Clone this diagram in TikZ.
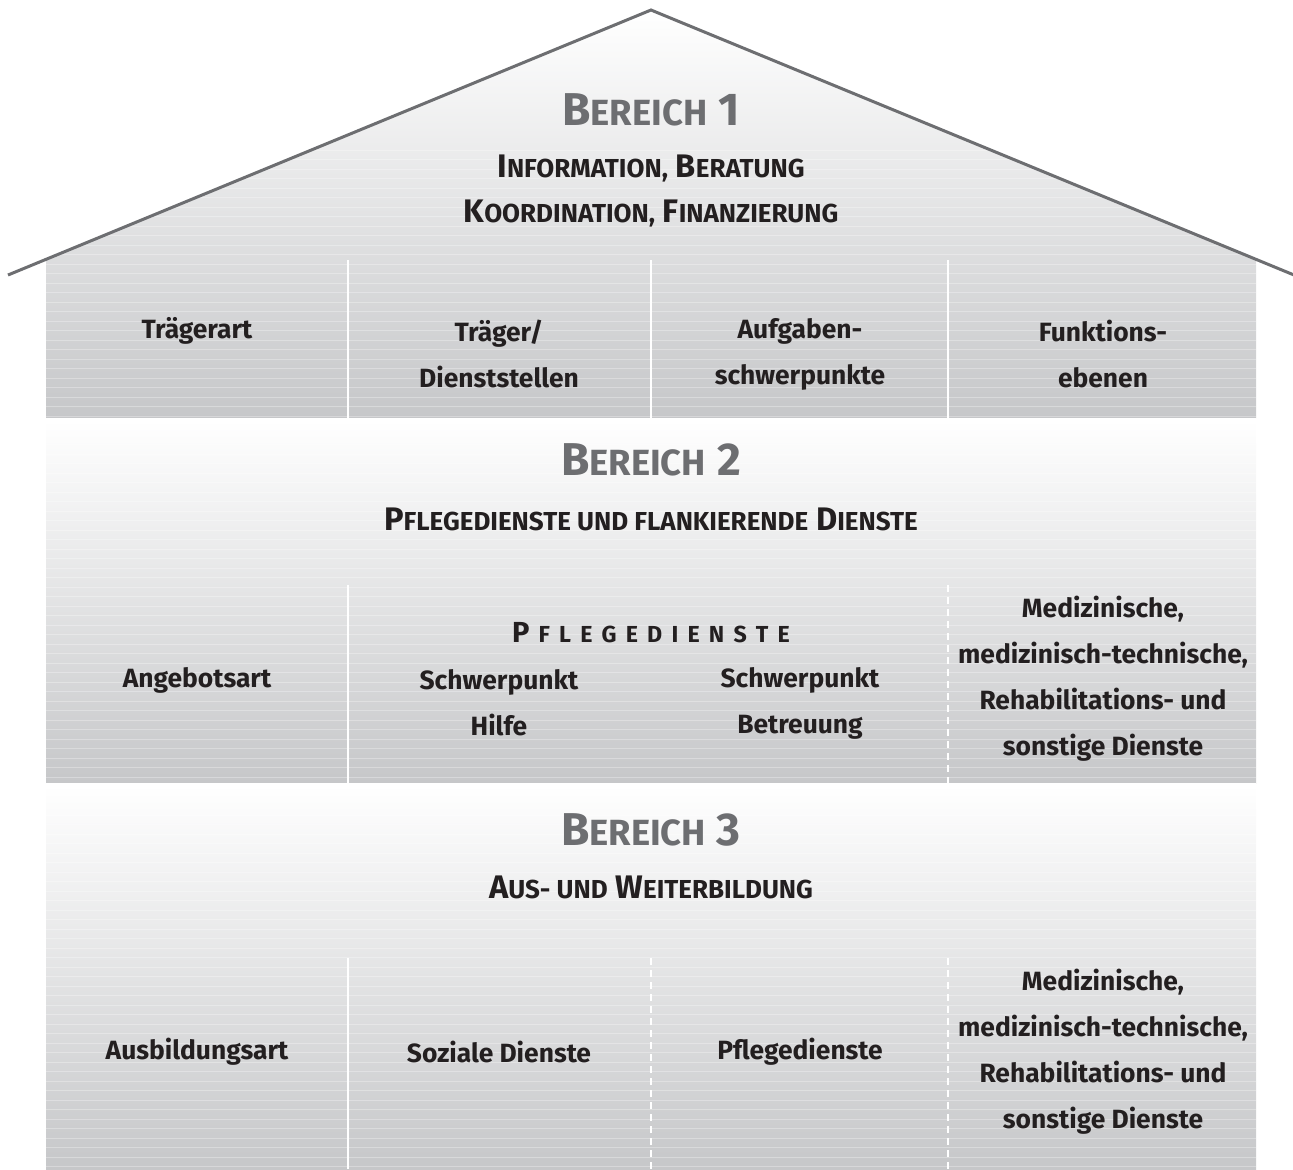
\documentclass[tikz,border=0pt]{standalone}
\usepackage{fontspec}
\setmainfont{Fira Sans}
\usetikzlibrary{positioning}
\definecolor{dach}{HTML}{6D6E71}
\definecolor{wand}{HTML}{C6C7C9}
\definecolor{schrift}{HTML}{231F20}
% Kapitaelchen von Hand
\newcommand{\kgross}[1]{{\fontsize{18.2}{20}\selectfont #1}}
\newcommand{\kunter}[1]{{\fontsize{13}{14}\selectfont #1}}
\newcommand{\kmini}[1]{{\fontsize{11.6}{14}\selectfont #1}}
\newcommand{\lsp}{\hspace{4.6pt}}

\begin{document}
\begin{tikzpicture}[x=0.5pt, y=-0.5pt,
    band/.style={top color=white, bottom color=wand},
    streifen/.style={draw=white, opacity=0.3, line width=0.5pt},
    trenner/.style={draw=white, line width=1pt},
    trennerdash/.style={trenner, dash pattern=on 3.5pt off 2.5pt},
    bereich/.style={font=\fontsize{23}{24}\selectfont\bfseries, text=dach},
    untertitel/.style={font=\fontsize{16.3}{22.5}\selectfont\bfseries, text=schrift, align=center},
    sperrtitel/.style={font=\fontsize{14.5}{16}\selectfont\bfseries, text=schrift},
    feld/.style={font=\fontsize{13.2}{23}\selectfont\bfseries, text=schrift, align=center}]
  \useasboundingbox (0,0) rectangle (1293,1169);

  % Dach und Baender
  \coordinate (traufeL) at (8,275);
  \coordinate (first) at (651,10);
  \coordinate (traufeR) at (1294,275);
  \shade[band] (46,259.3) -- (first) -- (1256,259.3) -- (1256,418) -- (46,418) -- cycle;
  \shade[band] (46,420) rectangle (1256,783);
  \shade[band] (46,785) rectangle (1256,1169);
  \begin{scope}
    \clip (46,259.3) -- (first) -- (1256,259.3) -- (1256,1169) -- (46,1169) -- cycle;
    \foreach \y in {150,159.5,...,1169}
      \draw[streifen] (46,\y) -- (1256,\y);
  \end{scope}
  \fill[white] (46,418) rectangle (1256,420);
  \fill[white] (46,783) rectangle (1256,785);
  \draw[dach, line width=1.5pt] (traufeL) -- (first) -- (traufeR);

  % Trennlinien
  \draw[trenner] (348,260) -- (348,418);
  \draw[trenner] (651,260) -- (651,418);
  \draw[trenner] (948,260) -- (948,418);
  \draw[trenner] (348,585) -- (348,783);
  \draw[trennerdash] (948,585) -- (948,783);
  \draw[trenner] (348,958) -- (348,1169);
  \draw[trennerdash] (651,958) -- (651,1169);
  \draw[trennerdash] (948,958) -- (948,1169);

  % Bereich 1
  \node[bereich] (b1) at (651,110) {B\kgross{EREICH} 1};
  \node[untertitel] (b1sub) at (651,191) {I\kunter{NFORMATION,} B\kunter{ERATUNG}\\K\kunter{OORDINATION,} F\kunter{INANZIERUNG}};
  \node[feld] (traegerart) at (197,331) {Trägerart};
  \node[feld] (traeger) at (499,354) {Träger/\\Dienststellen};
  \node[feld] (aufgaben) at (800,354) {Aufgaben-\\schwerpunkte};
  \node[feld] (funktion) at (1103,354) {Funktions-\\ebenen};

  % Bereich 2
  \node[bereich] (b2) at (651,460) {B\kgross{EREICH} 2};
  \node[untertitel] (b2sub) at (651,519) {P\kunter{FLEGEDIENSTE UND FLANKIERENDE} D\kunter{IENSTE}};
  \node[feld] (angebot) at (197,680) {Angebotsart};
  \node[sperrtitel] (pflege) at (651,633) {P\lsp\kmini{F\lsp L\lsp E\lsp G\lsp E\lsp D\lsp I\lsp E\lsp N\lsp S\lsp T\lsp E}};
  \node[feld] (hilfe) at (499,703) {Schwerpunkt\\Hilfe};
  \node[feld] (betreuung) at (800,703) {Schwerpunkt\\Betreuung};
  \node[feld] (med2) at (1103,679) {Medizinische,\\medizinisch-technische,\\Rehabilitations- und\\sonstige Dienste};

  % Bereich 3
  \node[bereich] (b3) at (651,830) {B\kgross{EREICH} 3};
  \node[untertitel] (b3sub) at (651,887) {A\kunter{US- UND} W\kunter{EITERBILDUNG}};
  \node[feld] (ausbildung) at (197,1052) {Ausbildungsart};
  \node[feld] (sozial) at (499,1052) {Soziale Dienste};
  \node[feld] (pflege3) at (800,1052) {Pflegedienste};
  \node[feld] (med3) at (1103,1052) {Medizinische,\\medizinisch-technische,\\Rehabilitations- und\\sonstige Dienste};
\end{tikzpicture}
\end{document}
